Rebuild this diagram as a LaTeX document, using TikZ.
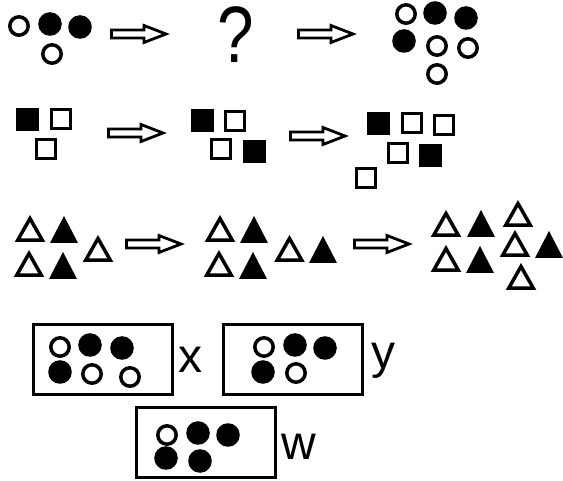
\documentclass[tikz,border=0pt]{standalone}
\usepackage{fontspec}
\setmainfont{Liberation Sans}
\usetikzlibrary{positioning}

\tikzset{
  hollowarrow/.pic={
    \draw[line width=2.8pt,fill=white,line join=miter]
      (1.5,-4) -- (34,-4) -- (34,-8.5) -- (56,0) -- (34,8.5) -- (34,4) -- (1.5,4) -- cycle;
  }
}

\begin{document}
\begin{tikzpicture}[x=1pt,y=-1pt,
  opendot/.style={draw,line width=3.5pt,fill=white},
  openbox/.style={draw,line width=3.5pt,fill=white},
  opentri/.style={draw,line width=3.5pt,fill=white,line join=miter},
  panel/.style={draw,line width=3pt,minimum width=139pt,minimum height=70pt,inner sep=0pt},
  lab/.style={font=\fontsize{48}{58}\selectfont,inner sep=0pt,anchor=base west}]
  \useasboundingbox (0,0) rectangle (563,481);

  % sequence arrows
  \foreach \ax/\ay in {110/34,297/34,107/133,289/136,125/244,353/244}
    \pic at (\ax,\ay) {hollowarrow};

  \node[font=\fontsize{80}{90}\selectfont,inner sep=0pt,anchor=base,xscale=0.82] (qmark) at (236,63) {?};

  % circles
  \foreach \cx/\cy in {19/26,52/54,406/14,437/46,468/48,437/74,
                       60/347,92/374,130/377,264/347,296/373,167/435}
    \draw[opendot] (\cx,\cy) circle[radius=9.2pt];
  \foreach \cx/\cy in {50/24,80/27,435/13,466/18,404/41,
                       90/345,122/348,60/372,295/345,325/348,263/372,
                       198/433,228/435,166/458,200/461}
    \fill (\cx,\cy) circle[radius=11.8pt];

  % squares
  \foreach \sx/\sy in {61/119,46/149,235/121,221/149,412/123,444/125,398/153,366/178}
    \draw[openbox] (\sx-9.7,\sy-9.7) rectangle ++(19.4,19.4);
  \foreach \sx/\sy in {27/120,202/121,254/152,378/124,430/156}
    \fill (\sx-11.5,\sy-11.5) rectangle ++(23,23);

  % triangles (centre x / base y)
  \foreach \tx/\ty in {30/242,29/277,98/262,220/242,219/277,289.5/262,
                       446/237,518/227,446/272,515/257,521/290}
    \draw[opentri] (\tx-12.3,\ty-1.8) -- (\tx,\ty-23.5) -- (\tx+12.3,\ty-1.8) -- cycle;
  \foreach \tx/\ty in {64/243,63/279,254/243,253/279,323/263,481/237,480/273,549/258}
    \fill (\tx-14,\ty) -- (\tx,\ty-27) -- (\tx+14,\ty) -- cycle;

  % answer panels
  \node[panel] (boxx) at (103,359.5) {};
  \node[panel] (boxy) at (292.5,359.5) {};
  \node[panel] (boxw) at (206,442.5) {};
  \node[lab] (labx) at (178,373) {x};
  \node[lab] (laby) at (371,369) {y};
  \node[lab] (labw) at (281,460) {w};
\end{tikzpicture}
\end{document}
